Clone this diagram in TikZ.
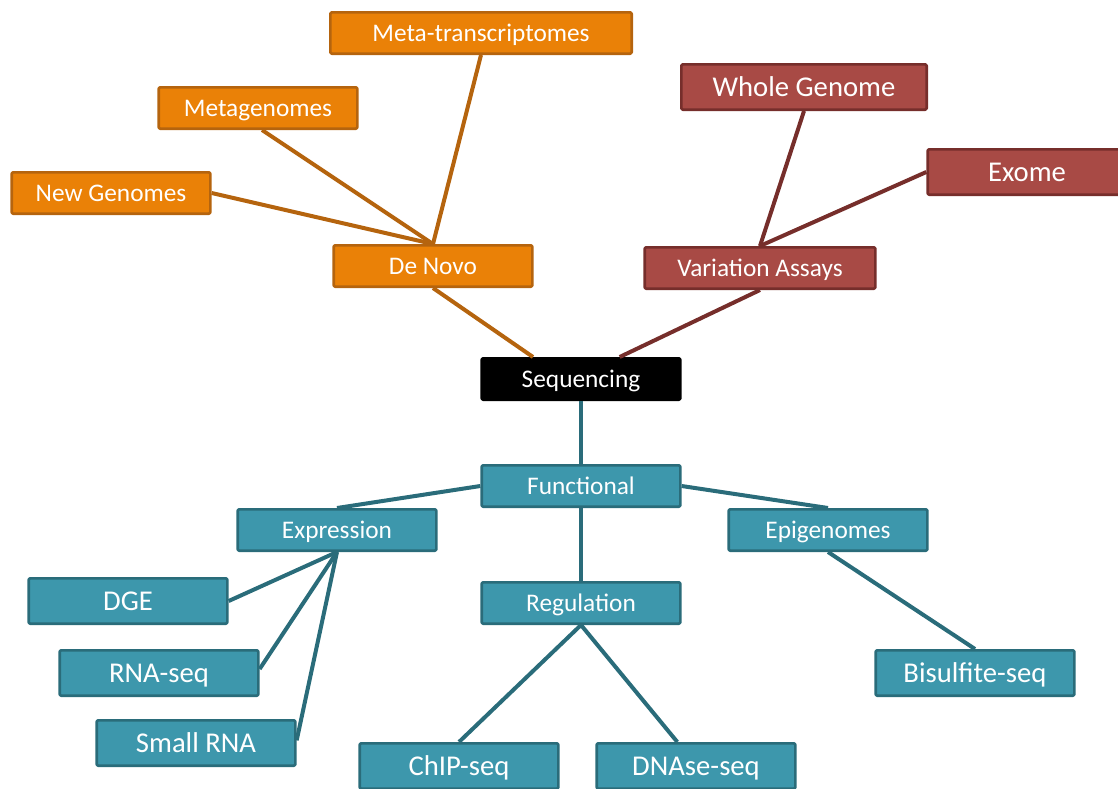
\documentclass[tikz,border=0pt]{standalone}
\usepackage{fontspec}
\setmainfont{Carlito}
\definecolor{orfill}{HTML}{EA8107}
\definecolor{ordark}{HTML}{B5640E}
\definecolor{rdfill}{HTML}{A84A45}
\definecolor{rddark}{HTML}{762E2B}
\definecolor{tlfill}{HTML}{3D97AC}
\definecolor{tldark}{HTML}{2A6C7A}

\begin{document}
\begin{tikzpicture}[x=0.75pt,y=-0.75pt,line join=round,
  every node/.style={inner sep=0pt,text=white,text height=16pt,text depth=4pt,
    font=\fontsize{19}{23}\selectfont},
  box/.style={draw,line width=2pt,rounded corners=1pt,minimum width=149pt,minimum height=31pt},
  bigbox/.style={box,minimum height=34pt,text height=18pt,text depth=4.5pt,
    font=\fontsize{21.5}{26}\selectfont},
  obox/.style={box,fill=orfill,draw=ordark},
  rbox/.style={fill=rdfill,draw=rddark},
  tbox/.style={fill=tlfill,draw=tldark},
  oline/.style={draw=ordark,line width=3pt},
  rline/.style={draw=rddark,line width=3pt},
  tline/.style={draw=tldark,line width=3pt}]
  \useasboundingbox (0,0) rectangle (1118,789);

  % de novo branch
  \node[obox,minimum width=226pt] (meta) at (481,33) {Meta-transcriptomes};
  \node[obox] (mgen) at (258,108) {Metagenomes};
  \node[obox] (newg) at (111,193) {New Genomes};
  \node[obox] (denovo) at (433,266) {De Novo};

  % variation branch
  \node[bigbox,rbox,minimum width=184pt] (whole) at (804,87) {Whole Genome};
  \node[bigbox,rbox] (exome) at (1027,172) {Exome};
  \node[box,rbox,minimum width=173pt] (var) at (760,268) {Variation Assays};

  \node[box,fill=black,draw=black] (seq) at (581,379) {Sequencing};

  % functional branch
  \node[box,tbox] (func) at (581,486) {Functional};
  \node[box,tbox] (expr) at (337,530) {Expression};
  \node[box,tbox] (epig) at (828,530) {Epigenomes};
  \node[box,tbox] (regu) at (581,603) {Regulation};
  \node[bigbox,tbox] (dge) at (128,601) {DGE};
  \node[bigbox,tbox] (rna) at (159,673) {RNA-seq};
  \node[bigbox,tbox] (small) at (196,743) {Small RNA};
  \node[bigbox,tbox] (chip) at (459,766) {ChIP-seq};
  \node[bigbox,tbox] (dnase) at (696,766) {DNAse-seq};
  \node[bigbox,tbox] (bisul) at (975,673) {Bisulfite-seq};

  \draw[oline] (meta.south) -- (denovo.north);
  \draw[oline] ([xshift=3pt]mgen.south) -- (denovo.north);
  \draw[oline] (newg.east) -- (denovo.north);
  \draw[oline] (denovo.south) -- ([xshift=-36pt]seq.north);

  \draw[rline] (whole.south) -- (var.north);
  \draw[rline] (exome.west) -- (var.north);
  \draw[rline] (var.south) -- ([xshift=29pt]seq.north);

  \draw[tline] (seq.south) -- (func.north);
  \draw[tline] (func.west) -- (expr.north);
  \draw[tline] (func.east) -- (epig.north);
  \draw[tline] (func.south) -- (regu.north);
  \draw[tline] (expr.south) -- (dge.east);
  \draw[tline] (expr.south) -- ([yshift=3pt]rna.east);
  \draw[tline] (expr.south) -- ([yshift=2pt]small.east);
  \draw[tline] (regu.south) -- (chip.north);
  \draw[tline] (regu.south) -- ([xshift=-14pt]dnase.north);
  \draw[tline] (epig.south) -- (bisul.north);
\end{tikzpicture}
\end{document}
